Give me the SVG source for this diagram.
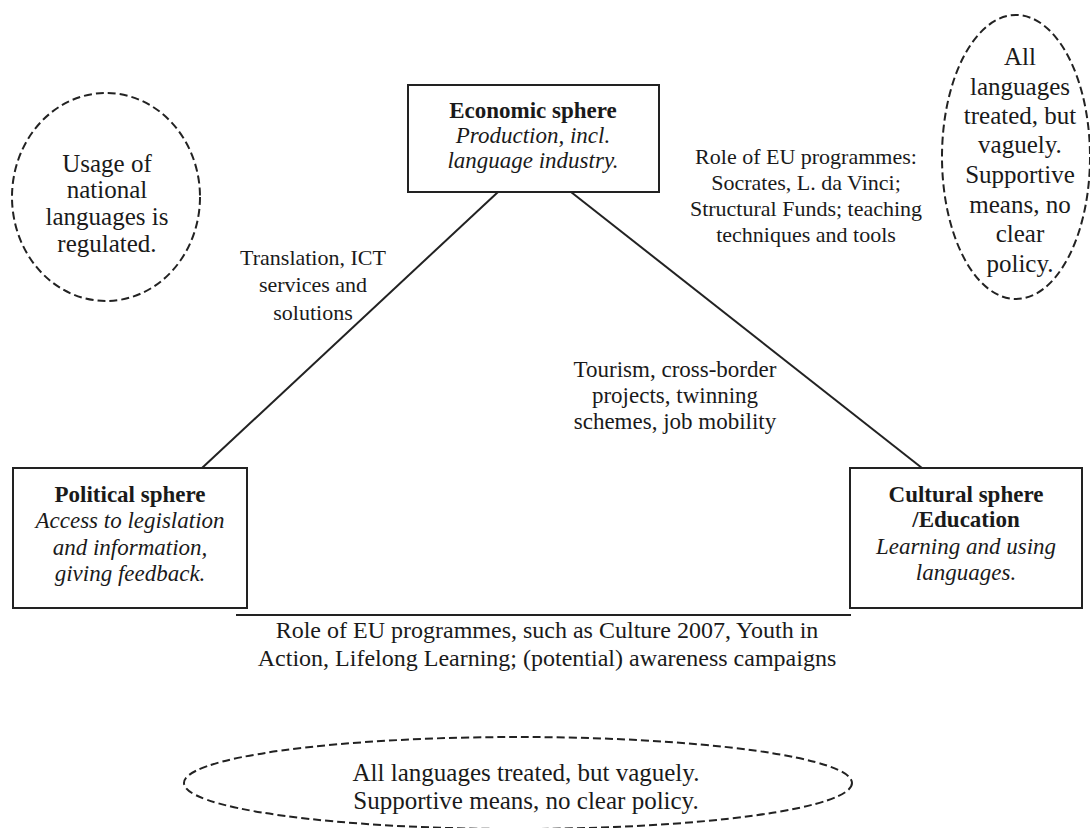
<svg xmlns="http://www.w3.org/2000/svg" width="1090" height="828" viewBox="0 0 1090 828">
<style>
text{font-family:"Liberation Serif","Times New Roman",serif;fill:#1a1a1a;text-anchor:middle}
.b{font-weight:bold;font-size:23px}
.i{font-style:italic;font-size:23px}
.t{font-size:23px}
.s{font-size:22px}
.m{font-size:24px}
.e{font-size:25px}
.box{fill:#fff;stroke:#222;stroke-width:2}
.ell{fill:none;stroke:#222;stroke-width:2;stroke-dasharray:8 4}
.ln{stroke:#222;stroke-width:2;fill:none}
</style>
<rect width="1090" height="828" fill="#fff"/>
<g id="connectors">
<line class="ln" x1="498" y1="192" x2="202" y2="468"/>
<line class="ln" x1="571" y1="192" x2="922" y2="468"/>
<line class="ln" x1="236" y1="615" x2="851" y2="615"/>
</g>
<g id="economic">
<rect class="box" x="408" y="85" width="251" height="107"/>
<text class="b" x="533" y="118">Economic sphere</text>
<text class="i" x="533" y="143">Production, incl.</text>
<text class="i" x="533" y="168">language industry.</text>
</g>
<g id="political">
<rect class="box" x="13" y="468" width="234" height="140"/>
<text class="b" x="130" y="502">Political sphere</text>
<text class="i" x="130" y="528">Access to legislation</text>
<text class="i" x="130" y="555">and information,</text>
<text class="i" x="130" y="581">giving feedback.</text>
</g>
<g id="cultural">
<rect class="box" x="850" y="468" width="232" height="140"/>
<text class="b" x="966" y="502">Cultural sphere</text>
<text class="b" x="966" y="527">/Education</text>
<text class="i" x="966" y="554">Learning and using</text>
<text class="i" x="966" y="580">languages.</text>
</g>
<g id="label-translation">
<text class="s" x="313" y="265">Translation, ICT</text>
<text class="s" x="313" y="292">services and</text>
<text class="s" x="313" y="320">solutions</text>
</g>
<g id="label-role-eu">
<text class="s" x="806" y="164">Role of EU programmes:</text>
<text class="s" x="806" y="190">Socrates, L. da Vinci;</text>
<text class="s" x="806" y="216">Structural Funds; teaching</text>
<text class="s" x="806" y="242">techniques and tools</text>
</g>
<g id="label-tourism">
<text class="t" x="675" y="377">Tourism, cross-border</text>
<text class="t" x="675" y="403">projects, twinning</text>
<text class="t" x="675" y="429">schemes, job mobility</text>
</g>
<g id="label-bottom">
<text class="m" x="547" y="638">Role of EU programmes, such as Culture 2007, Youth in</text>
<text class="m" x="547" y="666">Action, Lifelong Learning; (potential) awareness campaigns</text>
</g>
<g id="ellipse-left">
<ellipse class="ell" cx="106" cy="197" rx="94" ry="104"/>
<text class="e" x="107" y="172">Usage of</text>
<text class="e" x="107" y="198">national</text>
<text class="e" x="107" y="225">languages is</text>
<text class="e" x="107" y="252">regulated.</text>
</g>
<g id="ellipse-right">
<ellipse class="ell" cx="1016" cy="157" rx="74" ry="142"/>
<text class="e" x="1020" y="65">All</text>
<text class="e" x="1020" y="95">languages</text>
<text class="e" x="1020" y="124">treated, but</text>
<text class="e" x="1020" y="153">vaguely.</text>
<text class="e" x="1020" y="183">Supportive</text>
<text class="e" x="1020" y="213">means, no</text>
<text class="e" x="1020" y="242">clear</text>
<text class="e" x="1020" y="272">policy.</text>
</g>
<g id="ellipse-bottom">
<ellipse class="ell" cx="518" cy="783" rx="334" ry="46"/>
<text class="e" x="526" y="781">All languages treated, but vaguely.</text>
<text class="e" x="526" y="809">Supportive means, no clear policy.</text>
</g>
</svg>
